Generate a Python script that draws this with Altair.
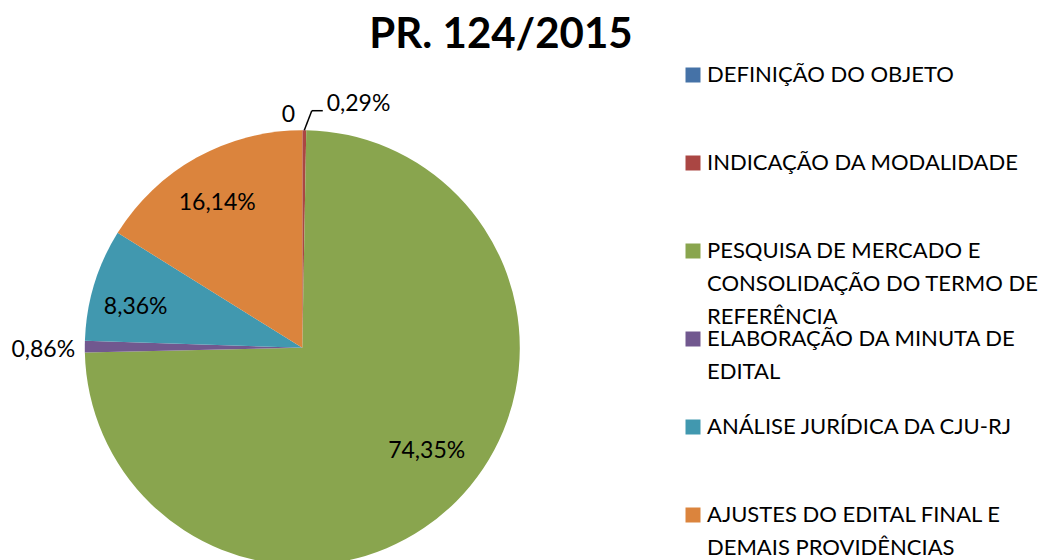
import altair as alt
import pandas as pd

title = "PR. 124/2015"
categories = [
    "DEFINIÇÃO DO OBJETO",
    "INDICAÇÃO DA MODALIDADE",
    "PESQUISA DE MERCADO E CONSOLIDAÇÃO DO TERMO DE REFERÊNCIA",
    "ELABORAÇÃO DA MINUTA DE EDITAL",
    "ANÁLISE JURÍDICA DA CJU-RJ",
    "AJUSTES DO EDITAL FINAL E DEMAIS PROVIDÊNCIAS",
]
legend_lines = [
    ["DEFINIÇÃO DO OBJETO"],
    ["INDICAÇÃO DA MODALIDADE"],
    ["PESQUISA DE MERCADO E", "CONSOLIDAÇÃO DO TERMO DE", "REFERÊNCIA"],
    ["ELABORAÇÃO DA MINUTA DE", "EDITAL"],
    ["ANÁLISE JURÍDICA DA CJU-RJ"],
    ["AJUSTES DO EDITAL FINAL E", "DEMAIS PROVIDÊNCIAS"],
]
values = [0.0, 0.29, 74.35, 0.86, 8.36, 16.14]
value_labels = ["0", "0,29%", "74,35%", "0,86%", "8,36%", "16,14%"]
colors = ["#4572A7", "#AA4643", "#89A54E", "#71588F", "#4198AF", "#DB843D"]

df = pd.DataFrame({
    "idx": list(range(len(categories))),
    "category": categories,
    "value": values,
    "label": value_labels,
    "legend": ["\n".join(l) for l in legend_lines],
})

FONT = "Lato"
W, H = 1030, 520
CX, CY, R = 294.3, 279.7, 217.5

color = alt.Color("category:N", scale=alt.Scale(domain=categories, range=colors), legend=None)
theta = alt.Theta("value:Q", stack=True)
order = alt.Order("idx:Q")

base = alt.Chart(df)

pie = base.mark_arc(outerRadius=R).encode(
    theta=theta, color=color, order=order,
    x=alt.value(CX), y=alt.value(CY),
)


def pie_label(k, radius, dx=0, dy=0):
    return base.transform_calculate(
        disp=f"datum.idx == {k} ? datum.label : ''"
    ).mark_text(
        radius=radius, dx=dx, dy=dy, font=FONT, fontSize=23, color="#000000",
        align="center", baseline="middle",
    ).encode(
        theta=theta, detail="category:N", order=order, text="disp:N",
        x=alt.value(CX), y=alt.value(CY),
    )


labels = [
    pie_label(2, 160, dx=11, dy=-10),
    pie_label(5, 167, dx=-4, dy=1),
    pie_label(4, 172, dx=-2, dy=9),
    pie_label(3, 259, dx=0, dy=3),
    pie_label(0, 233, dx=-14, dy=0),
    pie_label(1, 244, dx=54, dy=0),
]

leader_base = base.transform_joinaggregate(total="sum(value)").transform_window(
    cum="sum(value)", sort=[alt.SortField("idx")]
).transform_filter("datum.idx == 1").transform_calculate(
    a="2*PI*(datum.cum - datum.value/2)/datum.total",
).transform_calculate(
    x0=f"{CX} + {R}*sin(datum.a)",
    y0=f"{CY} - {R}*cos(datum.a)",
).transform_calculate(
    x1="datum.x0 + 7.5",
    y1="datum.y0 - 19.5",
).transform_calculate(
    x2="datum.x1 + 11",
)

leader1 = leader_base.mark_rule(color="#000000", strokeWidth=1.5).encode(
    x=alt.X("x0:Q", scale=None, axis=None), y=alt.Y("y0:Q", scale=None, axis=None),
    x2="x1:Q", y2="y1:Q",
)
leader2 = leader_base.mark_rule(color="#000000", strokeWidth=1.5).encode(
    x=alt.X("x1:Q", scale=None, axis=None), y=alt.Y("y1:Q", scale=None, axis=None),
    x2="x2:Q", y2="y1:Q",
)

ly = alt.Y("idx:O", scale=alt.Scale(type="point", range=[7, 447], padding=0), axis=None)

leg_sq = base.mark_square(size=225, opacity=1).encode(
    x=alt.value(685), y=ly, color=color,
)
leg_tx = base.mark_text(
    font=FONT, fontSize=22, align="left", baseline="top", dy=-10,
    lineBreak="\n", lineHeight=33, color="#000000",
).encode(
    x=alt.value(699), y=ly, text="legend:N",
)

chart = alt.layer(pie, *labels, leader1, leader2, leg_sq, leg_tx).resolve_scale(
    y="independent"
).properties(
    width=W, height=H,
    autosize=alt.AutoSizeParams(type="none"),
    padding={"left": 0, "top": 60, "right": 0, "bottom": 0},
    title=alt.TitleParams(
        title, font=FONT, fontSize=42, fontWeight="bold", color="#000000",
        anchor="middle", dx=-22, dy=46, offset=20, baseline="alphabetic",
    ),
).configure_view(stroke=None)

chart.save("out.html", embed_options={"renderer": "svg", "actions": False})
